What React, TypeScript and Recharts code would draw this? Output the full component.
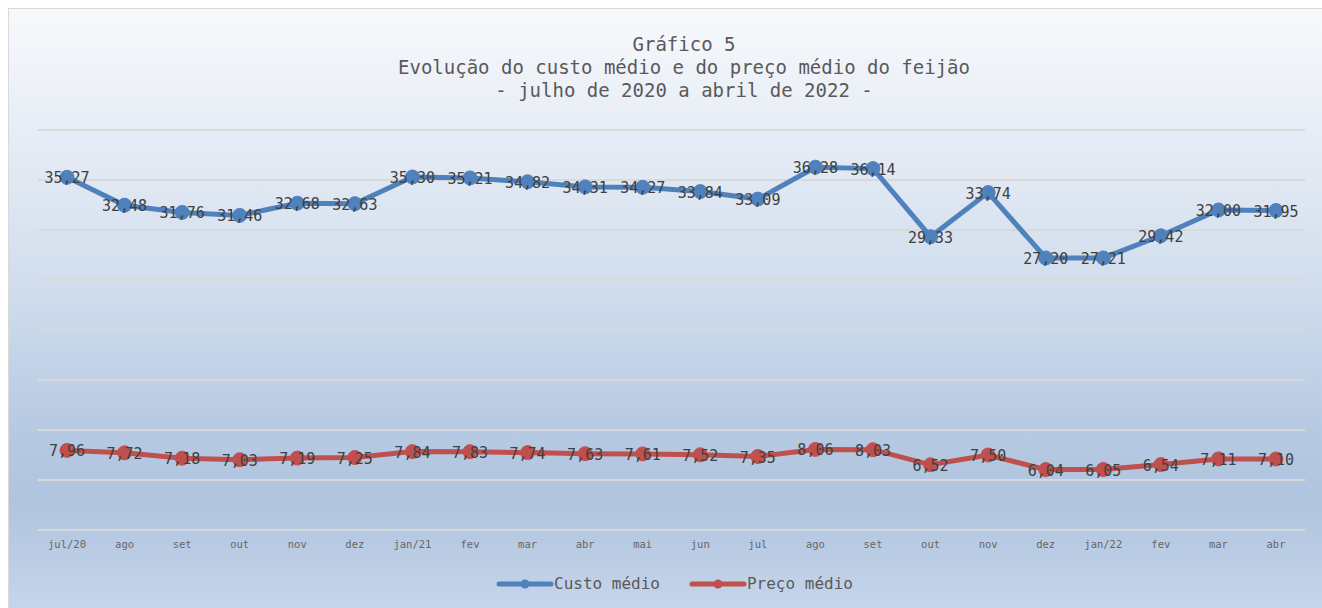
import React from "react";
import {
  LineChart,
  Line,
  XAxis,
  YAxis,
  CartesianGrid,
  LabelList,
} from "recharts";

const months = [
  "jul/20", "ago", "set", "out", "nov", "dez",
  "jan/21", "fev", "mar", "abr", "mai", "jun", "jul", "ago", "set", "out", "nov", "dez",
  "jan/22", "fev", "mar", "abr",
];

const custoMedio = [
  35.27, 32.48, 31.76, 31.46, 32.68, 32.63, 35.3, 35.21, 34.82, 34.31, 34.27,
  33.84, 33.09, 36.28, 36.14, 29.33, 33.74, 27.2, 27.21, 29.42, 32.0, 31.95,
];

const precoMedio = [
  7.96, 7.72, 7.18, 7.03, 7.19, 7.25, 7.84, 7.83, 7.74, 7.63, 7.61, 7.52, 7.35,
  8.06, 8.03, 6.52, 7.5, 6.04, 6.05, 6.54, 7.11, 7.1,
];

const yTicks = [0, 5, 10, 15, 20, 25, 30, 35, 40];

const titleLines = [
  "Gráfico 5",
  "Evolução do custo médio e do preço médio do feijão",
  "- julho de 2020 a abril de 2022 -",
];

const data = months.map((m, i) => ({
  idx: i,
  month: m,
  custo: custoMedio[i],
  preco: precoMedio[i],
}));

const FONT = "'DejaVu Sans Mono', 'Liberation Mono', monospace";
const BLUE = "#4f81bd";
const RED = "#c0504d";

const fmt = (v: number) => v.toFixed(2).replace(".", ",");

const PointLabel = (props: any) => {
  const { x, y, value } = props;
  return (
    <text
      x={x}
      y={y + 1}
      textAnchor="middle"
      dominantBaseline="central"
      fontFamily={FONT}
      fontSize={15}
      fill="#404040"
    >
      {fmt(value)}
    </text>
  );
};

const MonthTick = (props: any) => {
  const { x, y, payload } = props;
  return (
    <text
      x={x}
      y={y + 14}
      textAnchor="middle"
      dominantBaseline="central"
      fontFamily={FONT}
      fontSize={10.5}
      fill="#666666"
    >
      {months[payload.value]}
    </text>
  );
};

function LegendItem({ color, label }: { color: string; label: string }) {
  return (
    <div style={{ display: "flex", alignItems: "center", marginRight: 29 }}>
      <svg width={58} height={12}>
        <line x1={3} y1={6} x2={55} y2={6} stroke={color} strokeWidth={5} strokeLinecap="round" />
        <circle cx={29} cy={6} r={4.5} fill={color} />
      </svg>
      <span style={{ fontFamily: FONT, fontSize: 16, color: "#595959" }}>{label}</span>
    </div>
  );
}

export default function App() {
  return (
    <>
      <style>{`html{overflow:hidden}`}</style>
      <div
        style={{
          position: "fixed",
          left: 8,
          top: 8,
          right: 0,
          bottom: 0,
          overflow: "hidden",
          borderTop: "1px solid #d9d9d9",
          borderLeft: "1px solid #d9d9d9",
          background:
            "linear-gradient(180deg, #f7f9fc 0%, #e6ecf5 22%, #d2deed 45%, #b7cae3 70%, #b0c4df 82%, #c5d5ea 100%)",
        }}
      >
        <div
          style={{
            position: "absolute",
            left: 0,
            top: 24,
            width: 1350,
            textAlign: "center",
            fontFamily: FONT,
            fontSize: 19,
            lineHeight: "23px",
            color: "#595959",
          }}
        >
          {titleLines.map((t) => (
            <div key={t}>{t}</div>
          ))}
        </div>
        <LineChart
          width={1313}
          height={599}
          data={data}
          margin={{ top: 121, right: 17, left: 29, bottom: 48 }}
        >
          <CartesianGrid
            horizontal
            vertical={false}
            stroke="#d9d9d9"
            strokeWidth={2}
          />
          <XAxis
            dataKey="idx"
            type="category"
            height={30}
            padding={{ left: 29, right: 29 }}
            axisLine={{ stroke: "#d9d9d9", strokeWidth: 2 }}
            tickLine={false}
            tickSize={0}
            tickMargin={0}
            interval={0}
            tick={<MonthTick />}
          />
          <YAxis hide domain={[0, 40]} ticks={yTicks} />
          <Line
            dataKey="custo"
            stroke={BLUE}
            strokeWidth={5}
            dot={{ r: 7, fill: BLUE, stroke: BLUE, strokeWidth: 1 }}
            isAnimationActive={false}
          >
            <LabelList dataKey="custo" content={<PointLabel />} />
          </Line>
          <Line
            dataKey="preco"
            stroke={RED}
            strokeWidth={5}
            dot={{ r: 7, fill: RED, stroke: RED, strokeWidth: 1 }}
            isAnimationActive={false}
          >
            <LabelList dataKey="preco" content={<PointLabel />} />
          </Line>
        </LineChart>
        <div
          style={{
            position: "absolute",
            left: 487,
            top: 565,
            display: "flex",
            alignItems: "center",
          }}
        >
          <LegendItem color={BLUE} label="Custo médio" />
          <LegendItem color={RED} label="Preço médio" />
        </div>
      </div>
    </>
  );
}
